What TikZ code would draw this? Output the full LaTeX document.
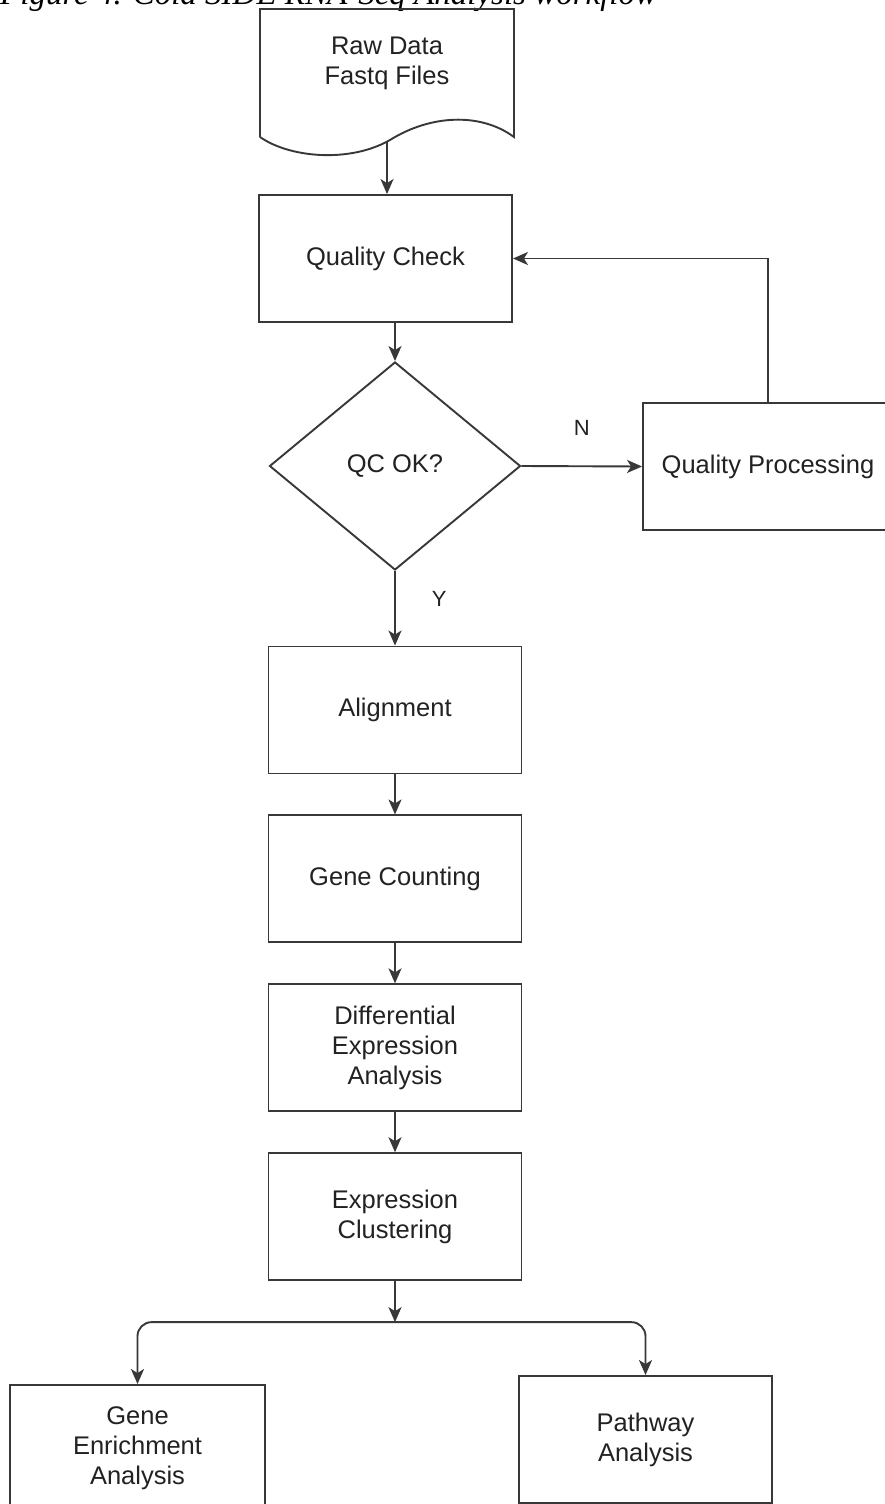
\documentclass[tikz,border=0pt]{standalone}
\usepackage{fontspec}
\setmainfont{Liberation Sans}
\newfontfamily\capfont{Liberation Serif}
\usetikzlibrary{positioning,arrows.meta,shapes.geometric}
\definecolor{linegray}{HTML}{383838}
\definecolor{txtgray}{HTML}{222222}

\begin{document}
\begin{tikzpicture}[x=1pt, y=-1pt,
  box/.style={draw=linegray, line width=1.9pt, align=center, minimum width=253pt, minimum height=127pt, inner sep=0pt, text=txtgray, font=\fontsize{25.5}{30}\selectfont},
  decide/.style={box, diamond, minimum width=251pt, minimum height=208pt},
  doctext/.style={align=center, inner sep=0pt, text=txtgray, font=\fontsize{25.5}{30}\selectfont},
  lbl/.style={inner sep=0pt, text=txtgray, font=\fontsize{22}{26}\selectfont},
  arr/.style={-{Stealth[length=15pt, width=13pt, inset=4pt]}, line width=1.9pt, draw=linegray}
]
\useasboundingbox (0,0) rectangle (884,1504);
\fill[white] (0,0) rectangle (884,1504);

% caption, cut by the page top
\node[anchor=base west, inner sep=0pt, font=\capfont\itshape\fontsize{33}{36}\selectfont] (cap) at (0,5) {Figure 4. Cold SIDE RNA-Seq Analysis workflow};

% raw data (document shape)
\draw[line width=1.9pt, draw=linegray] (260,137) -- (260,9) -- (514,9) -- (514,137)
  .. controls (480,112) and (430,115) .. (390,140)
  .. controls (350,163) and (290,158) .. (260,137);
\node[doctext] (raw) at (387,63) {Raw Data\\Fastq Files};
\coordinate (rawend) at (387,141);

\node[box] (qc) at (385.5,258.5) {Quality Check};
\node[decide] (qcok) at (395,466) {QC OK?};
\node[box, minimum width=250pt] (qp) at (768,466.5) {Quality Processing};

\node[box] (align) at (395,710) {Alignment};
\node[box, below=40pt of align] (gcount) {Gene Counting};
\node[box, below=40pt of gcount] (diffex) {Differential\\Expression\\Analysis};
\node[box, below=40pt of diffex] (clust) {Expression\\Clustering};
\coordinate[below=41pt of clust] (split);

\node[box, minimum width=255pt] (gea) at (137.5,1448.5) {Gene\\Enrichment\\Analysis};
\node[box] (pwa) at (645.5,1439.5) {Pathway\\Analysis};

\draw[arr] (rawend) -- (rawend |- qc.north);
\draw[arr] (qcok.north |- qc.south) -- (qcok.north);
\draw[arr] (qcok.east) -- (qp.west) node[lbl, midway, above=30pt] {N};
\draw[arr] (qp.north) |- (qc.east);
\draw[arr] (qcok.south) -- (align.north) node[lbl, pos=0.38, right=36pt] {Y};
\draw[arr] (align) -- (gcount);
\draw[arr] (gcount) -- (diffex);
\draw[arr] (diffex) -- (clust);
\draw[arr] (clust) -- (split);
\draw[arr, rounded corners=14pt] (split) -| (gea.north);
\draw[arr, rounded corners=14pt] (split) -| (pwa.north);
\end{tikzpicture}
\end{document}
